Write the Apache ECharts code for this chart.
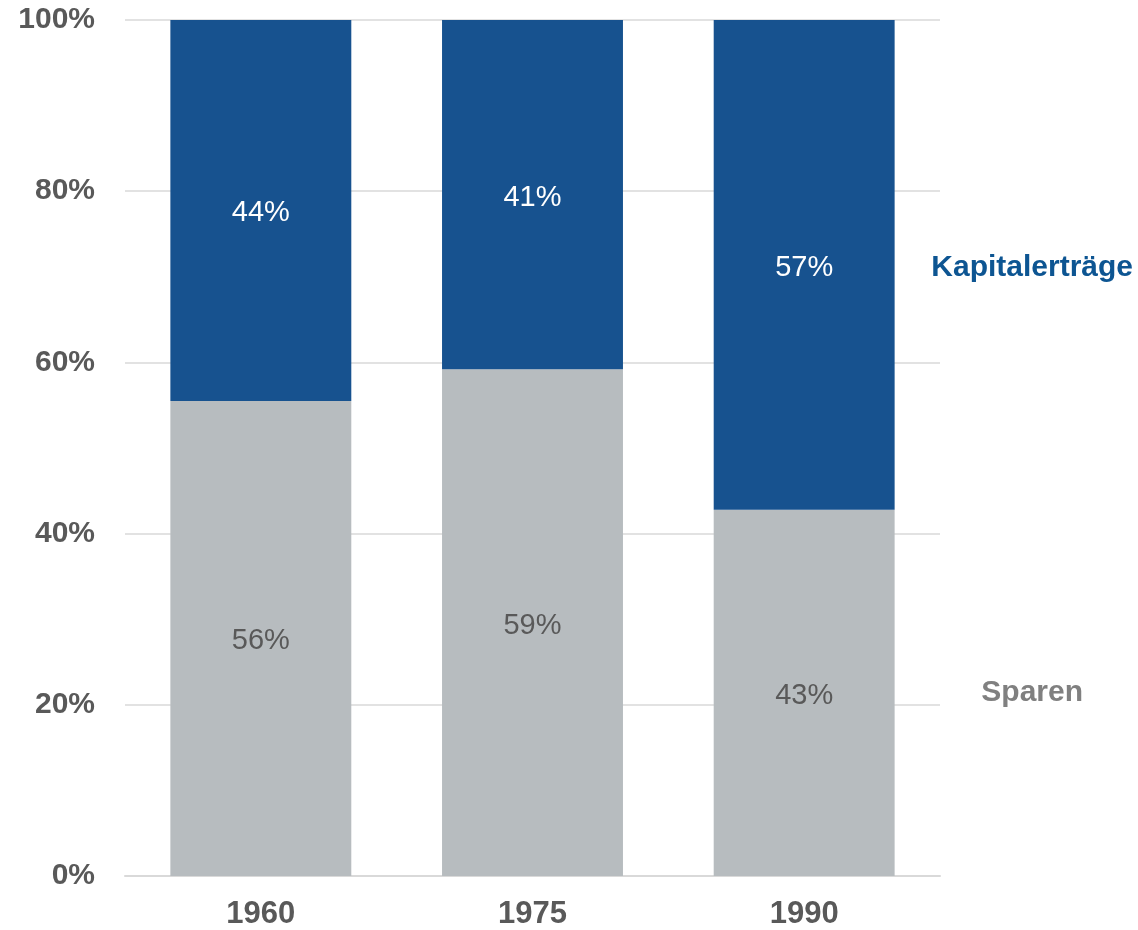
<!DOCTYPE html>
<html>
<head>
<meta charset="utf-8">
<script src="https://cdn.jsdelivr.net/npm/echarts@6/dist/echarts.min.js"></script>
<style>
  html, body { margin: 0; padding: 0; background: #fff; }
  #chart { width: 1138px; height: 930px; }
</style>
</head>
<body>
<div id="chart"></div>
<script>
// Daten
const years = ['1960', '1975', '1990']
const sparen = [55.5, 59.2, 42.8]
const kapital = [44.5, 40.8, 57.2]
const sparenLabels = ['56%', '59%', '43%']
const kapitalLabels = ['44%', '41%', '57%']
const seriesNames = ['Sparen', 'Kapitalerträge']

const font = '"Liberation Sans", Arial, sans-serif'
const chart = echarts.init(document.getElementById('chart'))

const option = {
  animation: false,
  grid: { left: 125, right: 198, top: 20, bottom: 54 },
  xAxis: {
    type: 'category',
    data: years,
    axisTick: { show: false },
    axisLine: { lineStyle: { color: '#d9d9d9', width: 2 } },
    axisLabel: { color: '#595959', fontSize: 31, fontWeight: 'bold', fontFamily: font, margin: 23 }
  },
  yAxis: {
    type: 'value',
    min: 0,
    max: 100,
    interval: 20,
    axisLine: { show: false },
    axisTick: { show: false },
    splitLine: { lineStyle: { color: '#d9d9d9', width: 1.5 } },
    axisLabel: {
      formatter: '{value}%',
      color: '#595959', fontSize: 30, fontWeight: 'bold', fontFamily: font, margin: 30
    }
  },
  series: [
    {
      name: seriesNames[0],
      type: 'bar',
      stack: 'total',
      barCategoryGap: '33.4%',
      data: sparen,
      itemStyle: { color: '#b7bcbf' },
      label: {
        show: true, position: 'inside', offset: [0, 3],
        formatter: p => sparenLabels[p.dataIndex],
        color: '#595959', fontSize: 29, fontFamily: font
      }
    },
    {
      name: seriesNames[1],
      type: 'bar',
      stack: 'total',
      data: kapital,
      itemStyle: { color: '#17528f' },
      label: {
        show: true, position: 'inside', offset: [0, 3],
        formatter: p => kapitalLabels[p.dataIndex],
        color: '#ffffff', fontSize: 29, fontFamily: font
      }
    }
  ]
}
chart.setOption(option)

// Serienbeschriftung rechts neben dem letzten Balken
const last = years.length - 1
const xPos = chart.convertToPixel({ xAxisIndex: 0 }, years[last]) + 228
const ySparen = chart.convertToPixel({ yAxisIndex: 0 }, sparen[last] / 2)
const yKapital = chart.convertToPixel({ yAxisIndex: 0 }, sparen[last] + kapital[last] / 2)
chart.setOption({
  graphic: [
    {
      type: 'text', x: xPos, y: yKapital + 3,
      style: {
        text: seriesNames[1], fill: '#0d5592', font: 'bold 30px ' + font,
        textAlign: 'center', textVerticalAlign: 'middle'
      }
    },
    {
      type: 'text', x: xPos, y: ySparen,
      style: {
        text: seriesNames[0], fill: '#808080', font: 'bold 30px ' + font,
        textAlign: 'center', textVerticalAlign: 'middle'
      }
    }
  ]
})
</script>
</body>
</html>
